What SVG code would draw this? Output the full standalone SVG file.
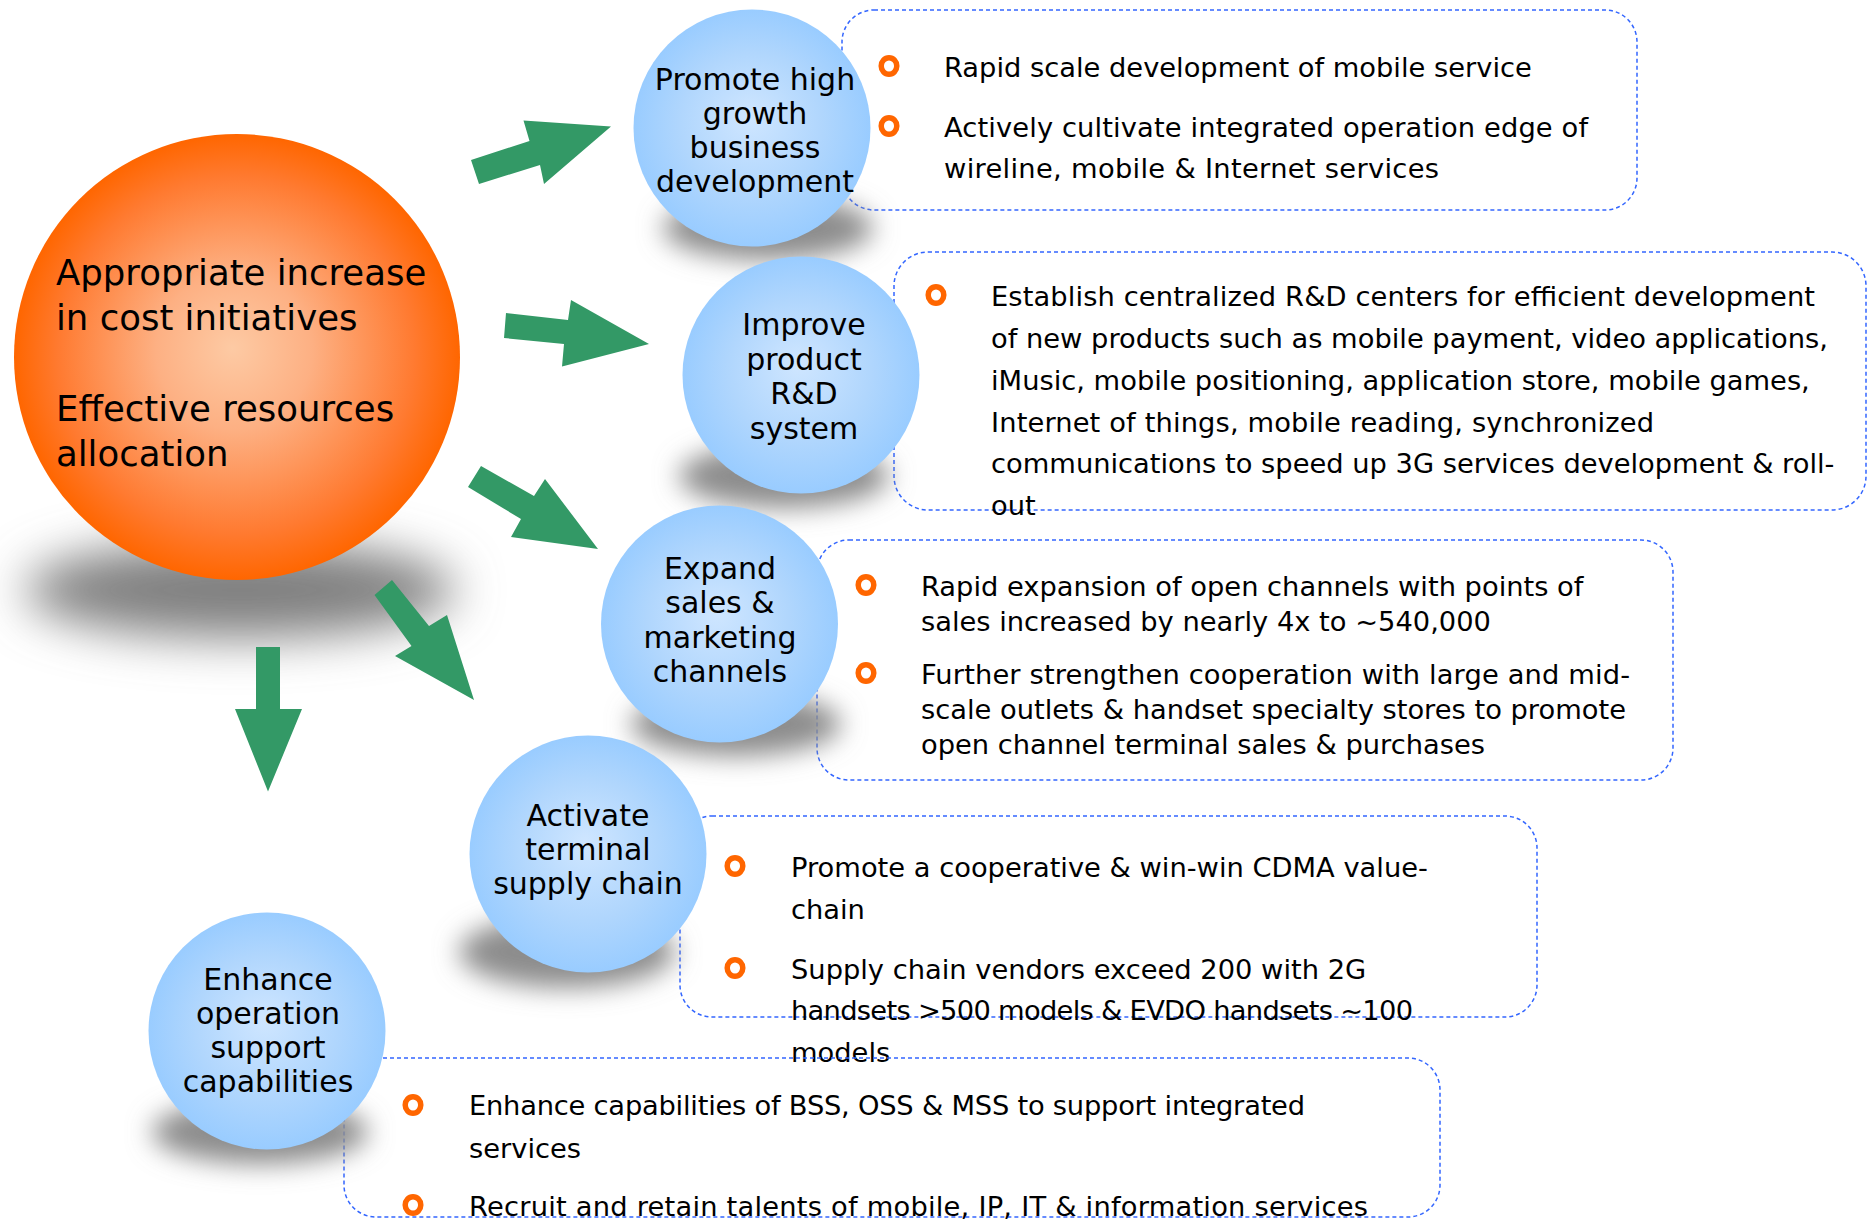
<svg xmlns="http://www.w3.org/2000/svg" width="1870" height="1220" viewBox="0 0 1870 1220">
<defs>
<radialGradient id="gOrange" cx="0.5" cy="0.5" r="0.5" fx="0.49" fy="0.48">
<stop offset="0" stop-color="#fdcaa4"/>
<stop offset="0.35" stop-color="#fdb083"/>
<stop offset="0.8" stop-color="#ff7a30"/>
<stop offset="1" stop-color="#ff6600"/>
</radialGradient>
<radialGradient id="gBlue" cx="0.5" cy="0.5" r="0.5" fx="0.49" fy="0.45">
<stop offset="0" stop-color="#cfe6ff"/>
<stop offset="0.6" stop-color="#b0d6fd"/>
<stop offset="1" stop-color="#99ccff"/>
</radialGradient>
<filter id="blurBig" x="-50%" y="-100%" width="200%" height="300%"><feGaussianBlur stdDeviation="24"/></filter>
<filter id="blurSm" x="-50%" y="-100%" width="200%" height="300%"><feGaussianBlur stdDeviation="13"/></filter>
<style>
text{font-family:"DejaVu Sans",Verdana,sans-serif;fill:#000}
.main{font-size:35.5px}
.lbl{font-size:30px;text-anchor:middle}
.item{font-size:27.3px}
.box{fill:none;stroke:#3366ff;stroke-width:1.5;stroke-dasharray:4 3}
.bullet{fill:none;stroke:#ff6600;stroke-width:5.5}
.arrow{fill:#339966}
.shadow{fill:#8c8c8c;filter:url(#blurSm)}
.bubble{fill:url(#gBlue)}
</style>
</defs>
<rect width="1870" height="1220" fill="#ffffff"/>

<!-- detail boxes -->
<g id="box-growth">
<rect class="box" x="842" y="10" width="795" height="200" rx="32"/>
<ellipse class="bullet" cx="889" cy="66" rx="7.8" ry="8.2"/>
<text class="item" x="944" y="77">Rapid scale development of mobile service</text>
<ellipse class="bullet" cx="889" cy="126" rx="7.8" ry="8.2"/>
<text class="item" x="944" y="137" textLength="644">Actively cultivate integrated operation edge of</text>
<text class="item" x="944" y="177.5" textLength="495">wireline, mobile &amp; Internet services</text>
</g>
<g id="box-rnd">
<rect class="box" x="894" y="252" width="972" height="258" rx="34"/>
<ellipse class="bullet" cx="936" cy="295" rx="7.8" ry="8.2"/>
<text class="item" x="991" y="306" textLength="824">Establish centralized R&amp;D centers for efficient development</text>
<text class="item" x="991" y="348">of new products such as mobile payment, video applications,</text>
<text class="item" x="991" y="389.5">iMusic, mobile positioning, application store, mobile games,</text>
<text class="item" x="991" y="432" textLength="663">Internet of things, mobile reading, synchronized</text>
<text class="item" x="991" y="473">communications to speed up 3G services development &amp; roll-</text>
<text class="item" x="991" y="515">out</text>
</g>
<g id="box-channels">
<rect class="box" x="817" y="540" width="856" height="240" rx="32"/>
<ellipse class="bullet" cx="866" cy="585" rx="7.8" ry="8.2"/>
<text class="item" x="921" y="596">Rapid expansion of open channels with points of</text>
<text class="item" x="921" y="631">sales increased by nearly 4x to ~540,000</text>
<ellipse class="bullet" cx="866" cy="673" rx="7.8" ry="8.2"/>
<text class="item" x="921" y="684" textLength="709">Further strengthen cooperation with large and mid-</text>
<text class="item" x="921" y="719">scale outlets &amp; handset specialty stores to promote</text>
<text class="item" x="921" y="753.5">open channel terminal sales &amp; purchases</text>
</g>
<g id="box-supply">
<rect class="box" x="680" y="816" width="857" height="201" rx="32"/>
<ellipse class="bullet" cx="735" cy="866" rx="7.8" ry="8.2"/>
<text class="item" x="791" y="877">Promote a cooperative &amp; win-win CDMA value-</text>
<text class="item" x="791" y="918.5">chain</text>
<ellipse class="bullet" cx="735" cy="968" rx="7.8" ry="8.2"/>
<text class="item" x="791" y="979">Supply chain vendors exceed 200 with 2G</text>
<text class="item" x="791" y="1020" textLength="622">handsets &gt;500 models &amp; EVDO handsets ~100</text>
<text class="item" x="791" y="1061.5">models</text>
</g>
<g id="box-support">
<rect class="box" x="344" y="1058" width="1096" height="159" rx="32"/>
<ellipse class="bullet" cx="413" cy="1105" rx="7.8" ry="8.2"/>
<text class="item" x="469" y="1115" textLength="836">Enhance capabilities of BSS, OSS &amp; MSS to support integrated</text>
<text class="item" x="469" y="1157.5">services</text>
<ellipse class="bullet" cx="413" cy="1205" rx="7.8" ry="8.2"/>
<text class="item" x="469" y="1216" textLength="899">Recruit and retain talents of mobile, IP, IT &amp; information services</text>
</g>

<!-- central node -->
<g id="node-center">
<ellipse cx="240" cy="590" rx="215" ry="48" fill="#808080" filter="url(#blurBig)"/>
<circle cx="237" cy="357" r="223" fill="url(#gOrange)"/>
<text class="main" x="56" y="285">Appropriate increase</text>
<text class="main" x="56" y="330">in cost initiatives</text>
<text class="main" x="56" y="421">Effective resources</text>
<text class="main" x="56" y="466">allocation</text>
</g>

<!-- connectors -->
<g id="connectors">
<polygon class="arrow" points="471,160 529.5,141 523.5,120.6 611,126.5 544,184 540,165 479,184"/>
<polygon class="arrow" points="506,313 568,320 571,300 649,344 562,366.5 564,344 504,338"/>
<polygon class="arrow" points="481,466 534,496 545,479 598,549 511,537 521,519 468,487"/>
<polygon class="arrow" points="392,580 429,626 447,615 474,700 395,656 411.5,646 374.5,595"/>
<polygon class="arrow" points="256,647 280,647 280,709 302,709 268,791.5 235,709 256,709"/>
</g>

<!-- strategy nodes -->
<g id="node-growth">
<ellipse class="shadow" cx="768" cy="228" rx="105" ry="32"/>
<circle class="bubble" cx="752" cy="128" r="118.5"/>
<text class="lbl" x="755" y="90">Promote high</text>
<text class="lbl" x="755" y="124">growth</text>
<text class="lbl" x="755" y="158">business</text>
<text class="lbl" x="755" y="192">development</text>
</g>
<g id="node-rnd">
<ellipse class="shadow" cx="784" cy="476" rx="105" ry="32"/>
<circle class="bubble" cx="801" cy="375" r="118.5"/>
<text class="lbl" x="804" y="335">Improve</text>
<text class="lbl" x="804" y="369.5">product</text>
<text class="lbl" x="804" y="404">R&amp;D</text>
<text class="lbl" x="804" y="438.5">system</text>
</g>
<g id="node-channels">
<ellipse class="shadow" cx="736" cy="724" rx="105" ry="32"/>
<circle class="bubble" cx="719.5" cy="624" r="118.5"/>
<text class="lbl" x="720" y="579">Expand</text>
<text class="lbl" x="720" y="613">sales &amp;</text>
<text class="lbl" x="720" y="648">marketing</text>
<text class="lbl" x="720" y="682">channels</text>
</g>
<g id="node-supply">
<ellipse class="shadow" cx="567" cy="952" rx="108" ry="36"/>
<circle class="bubble" cx="588" cy="854" r="118.5"/>
<text class="lbl" x="588" y="826">Activate</text>
<text class="lbl" x="588" y="860">terminal</text>
<text class="lbl" x="588" y="894">supply chain</text>
</g>
<g id="node-support">
<ellipse class="shadow" cx="260" cy="1132" rx="108" ry="32"/>
<circle class="bubble" cx="267" cy="1031" r="118.5"/>
<text class="lbl" x="268" y="990">Enhance</text>
<text class="lbl" x="268" y="1024">operation</text>
<text class="lbl" x="268" y="1058">support</text>
<text class="lbl" x="268" y="1092">capabilities</text>
</g>
</svg>
